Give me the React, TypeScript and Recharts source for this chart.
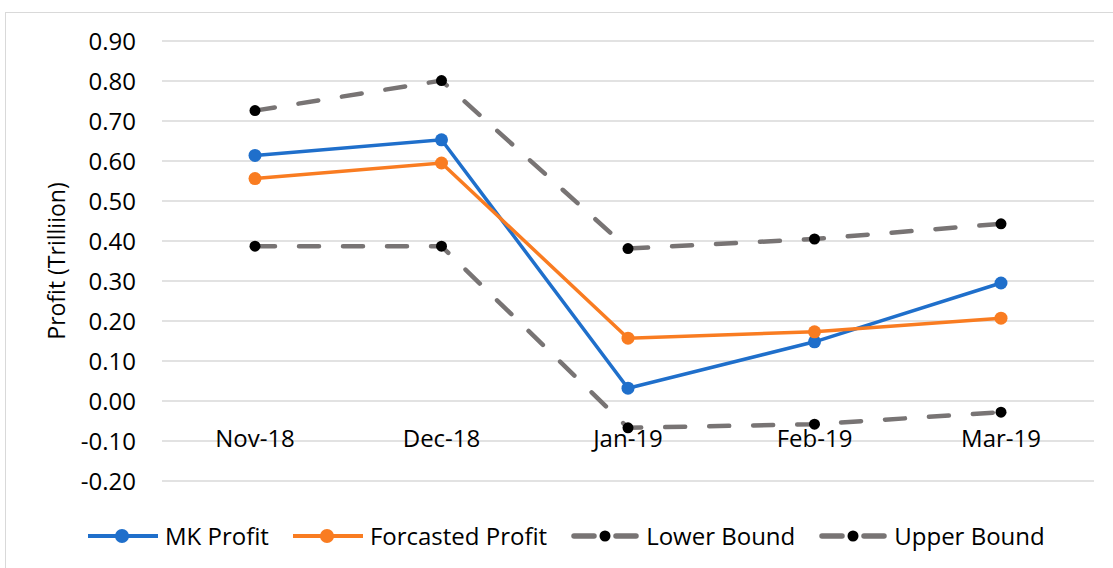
import { CartesianGrid, Legend, Line, LineChart, XAxis, YAxis } from "recharts";

const months = ["Nov-18", "Dec-18", "Jan-19", "Feb-19", "Mar-19"];
const mkProfit = [0.614, 0.653, 0.032, 0.148, 0.295];
const forecastProfit = [0.556, 0.595, 0.157, 0.173, 0.207];
const lowerBound = [0.387, 0.387, -0.067, -0.058, -0.028];
const upperBound = [0.726, 0.801, 0.381, 0.405, 0.443];
const yTicks = [-0.2, -0.1, 0, 0.1, 0.2, 0.3, 0.4, 0.5, 0.6, 0.7, 0.8, 0.9];

const data = months.map((month, i) => ({
  month,
  mk: mkProfit[i],
  forecast: forecastProfit[i],
  lower: lowerBound[i],
  upper: upperBound[i],
}));

const BLUE = "#1f6fcb";
const ORANGE = "#f97c21";
const GREY = "#787474";
const FONT = "'Open Sans', sans-serif";
const FS = 24;

const W = 1113;
const H = 568;
const MARGIN = { top: 41, right: 19, bottom: 10, left: 42 };
const Y_MIN = -0.2;
const Y_MAX = 0.9;
const PLOT_H = 440;
// category labels sit just under the 0.00 line, like Excel's crossing axis
const Y_ZERO = MARGIN.top + (PLOT_H * (Y_MAX - 0)) / (Y_MAX - Y_MIN);

const legendItems = [
  { name: "MK Profit", color: BLUE, dashed: false },
  { name: "Forcasted Profit", color: ORANGE, dashed: false },
  { name: "Lower Bound", color: GREY, dashed: true },
  { name: "Upper Bound", color: GREY, dashed: true },
];

function MonthTick({ x, payload }: any) {
  return (
    <text x={x} y={Y_ZERO + 46} textAnchor="middle" fontSize={FS} fill="#000" fontFamily={FONT}>
      {payload.value}
    </text>
  );
}

function LegendIcon({ color, dashed }: { color: string; dashed: boolean }) {
  if (dashed) {
    return (
      <svg width={68} height={20} style={{ display: "block" }}>
        <line x1={3} y1={10} x2={23} y2={10} stroke={color} strokeWidth={5.5} strokeLinecap="round" />
        <line x1={45} y1={10} x2={65} y2={10} stroke={color} strokeWidth={5.5} strokeLinecap="round" />
        <circle cx={34} cy={10} r={5.5} fill="#000" />
      </svg>
    );
  }
  return (
    <svg width={70} height={20} style={{ display: "block" }}>
      <line x1={0} y1={10} x2={70} y2={10} stroke={color} strokeWidth={4} />
      <circle cx={34} cy={10} r={7} fill={color} />
    </svg>
  );
}

function ChartLegend() {
  return (
    <div style={{ height: 47, display: "flex", alignItems: "center", gap: 24, paddingTop: 2, boxSizing: "border-box" }}>
      {legendItems.map((item) => (
        <div key={item.name} style={{ display: "flex", alignItems: "center", gap: 7 }}>
          <LegendIcon color={item.color} dashed={item.dashed} />
          <span style={{ fontSize: FS, fontFamily: FONT, color: "#000", lineHeight: "28px" }}>{item.name}</span>
        </div>
      ))}
    </div>
  );
}

export default function App() {
  return (
    <div style={{ position: "absolute", left: 0, top: 0, width: W, height: H, background: "#fff", overflow: "hidden", fontFamily: FONT }}>
      <div
        style={{
          position: "absolute",
          left: 5,
          top: 12,
          width: W,
          height: H,
          border: "1px solid #d9d9d9",
        }}
      />
      <div style={{ position: "absolute", left: 0, top: 0 }}>
        <LineChart width={W} height={H} data={data} margin={MARGIN}>
          <CartesianGrid vertical={false} stroke="#d9d9d9" strokeWidth={1.3} />
          <XAxis
            dataKey="month"
            axisLine={false}
            tickLine={false}
            tick={<MonthTick />}
            padding={{ left: 93, right: 93 }}
            height={30}
            interval={0}
          />
          <YAxis
            domain={[Y_MIN, Y_MAX]}
            ticks={yTicks}
            interval={0}
            width={120}
            axisLine={false}
            tickLine={false}
            tickSize={0}
            tickMargin={26}
            tickFormatter={(v: number) => v.toFixed(2)}
            tick={{ fontSize: FS, fill: "#000", fontFamily: FONT }}
            label={{
              value: "Profit (Trilliion)",
              angle: -90,
              position: "insideLeft",
              offset: 15,
              style: { textAnchor: "middle", fontSize: 23, fill: "#000", fontFamily: FONT },
            }}
          />
          <Legend
            verticalAlign="bottom"
            height={47}
            content={() => <ChartLegend />}
            wrapperStyle={{ left: 88, width: 1000 }}
          />
          <Line
            dataKey="mk"
            name="MK Profit"
            stroke={BLUE}
            strokeWidth={3.5}
            dot={{ r: 6.5, fill: BLUE, stroke: "none" }}
            activeDot={false}
            isAnimationActive={false}
          />
          <Line
            dataKey="forecast"
            name="Forcasted Profit"
            stroke={ORANGE}
            strokeWidth={3.5}
            dot={{ r: 6.5, fill: ORANGE, stroke: "none" }}
            activeDot={false}
            isAnimationActive={false}
          />
          <Line
            dataKey="lower"
            name="Lower Bound"
            stroke={GREY}
            strokeWidth={4.5}
            strokeDasharray="20 24"
            strokeLinecap="round"
            dot={{ r: 5.5, fill: "#000", stroke: "none" }}
            activeDot={false}
            isAnimationActive={false}
          />
          <Line
            dataKey="upper"
            name="Upper Bound"
            stroke={GREY}
            strokeWidth={4.5}
            strokeDasharray="20 24"
            strokeLinecap="round"
            dot={{ r: 5.5, fill: "#000", stroke: "none" }}
            activeDot={false}
            isAnimationActive={false}
          />
        </LineChart>
      </div>
    </div>
  );
}
